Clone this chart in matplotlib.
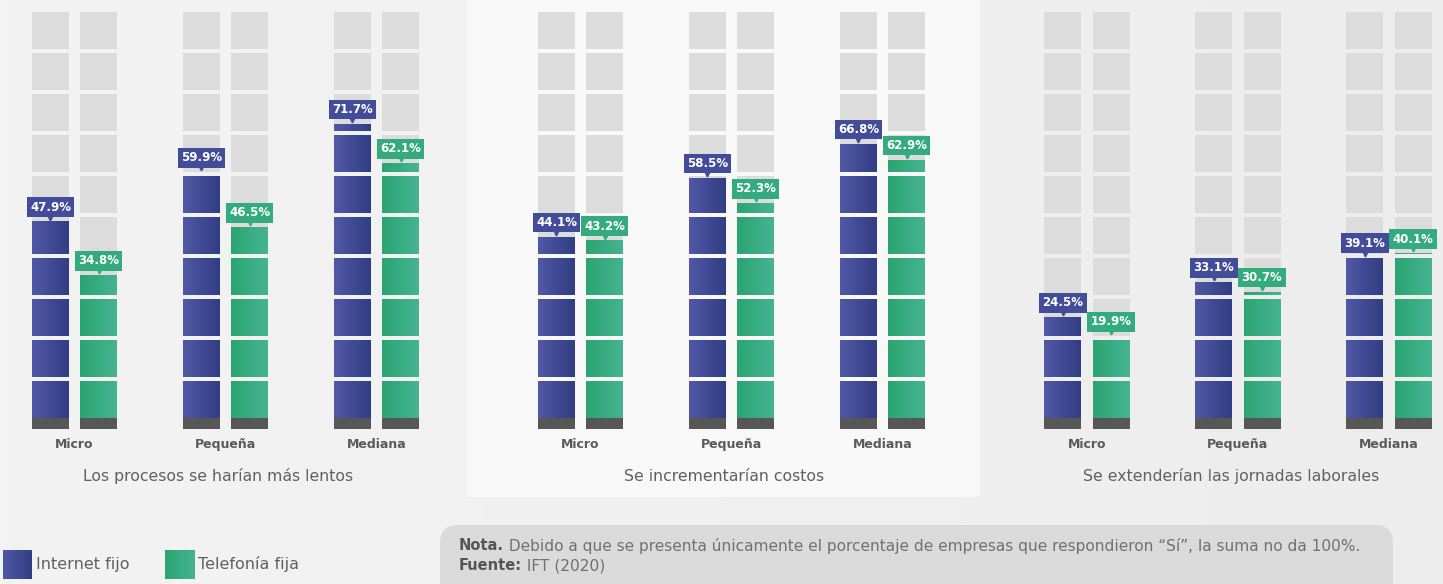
import numpy as np
import matplotlib
matplotlib.use("Agg")
import matplotlib.pyplot as plt
from matplotlib.colors import LinearSegmentedColormap
from matplotlib.patches import Rectangle, FancyBboxPatch

# ---------------- data ----------------
categories = ["Micro", "Pequeña", "Mediana"]
panel_titles = ["Los procesos se harían más lentos",
                "Se incrementarían costos",
                "Se extenderían las jornadas laborales"]
internet_fijo = [[47.9, 59.9, 71.7],
                 [44.1, 58.5, 66.8],
                 [24.5, 33.1, 39.1]]
telefonia_fija = [[34.8, 46.5, 62.1],
                  [43.2, 52.3, 62.9],
                  [19.9, 30.7, 40.1]]
series_names = ["Internet fijo", "Telefonía fija"]
note_bold = "Nota."
note_text = " Debido a que se presenta únicamente el porcentaje de empresas que respondieron “Sí”, la suma no da 100%."
source_bold = "Fuente:"
source_text = " IFT (2020)"

# ---------------- style ----------------
W, H, DPI = 1443, 584, 100
BG = "#f2f2f2"
MID_BG = "#f8f8f8"
GREY = "#dcdcdc"
BASE = "#575757"
TXT = "#5a5a5a"
blue_cmap = LinearSegmentedColormap.from_list("b", ["#5159a6", "#313d83"], N=512)
green_cmap = LinearSegmentedColormap.from_list("g", ["#2ba472", "#45b491"], N=512)
bg_cmap = LinearSegmentedColormap.from_list("bg", ["#f3f3f3", "#ededed"], N=1024)
blue_mid = "#434c98"
green_mid = "#34ab7f"
plt.rcParams["font.family"] = ["DejaVu Sans"]

fig = plt.figure(figsize=(W / DPI, H / DPI), dpi=DPI, facecolor=BG)


def rect(x0, y0, x1, y1):
    return [x0 / W, 1 - y1 / H, (x1 - x0) / W, (y1 - y0) / H]


grad = np.linspace(0, 1, 64).reshape(1, -1)
grad_bg = np.linspace(0, 1, 1443).reshape(1, -1)

# background gradient + lighter middle panel
bgax = fig.add_axes([0, 0, 1, 1], zorder=-5)
bgax.imshow(grad_bg, cmap=bg_cmap, aspect="auto", interpolation="nearest",
            extent=(0, 1, 0, 1))
bgax.set_xlim(0, 1)
bgax.set_ylim(0, 1)
bgax.axis("off")
bgax.add_patch(Rectangle((467 / W, 1 - 497 / H), (980 - 467) / W, 497 / H,
                         facecolor=MID_BG, edgecolor="none", zorder=2))
# note box
bgax.add_patch(FancyBboxPatch((440 / W, 1 - 600 / H), (1393 - 440) / W, (600 - 525) / H,
                              boxstyle="round,pad=0,rounding_size=0.0125",
                              facecolor="#dadada", edgecolor="none", zorder=2,
                              mutation_aspect=W / H))

PXU = 4.1          # pixels per percentage unit
BASE_H = 11 / PXU
GAP = 1.0
BW = 0.245
OFF = 0.159
centers0 = [74.5, 580.5, 1087]
UNIT = 151.0

for p in range(3):
    c0 = centers0[p]
    x_lo, x_hi = -0.3, 2.3
    ax = fig.add_axes(rect(c0 + x_lo * UNIT, 418 - 100 * PXU,
                           c0 + x_hi * UNIT, 418 + BASE_H * PXU))
    ax.set_facecolor("none")
    ax.axis("off")
    xs = np.arange(len(categories))
    for s, (vals, cmap, mid) in enumerate([(internet_fijo[p], blue_cmap, blue_mid),
                                           (telefonia_fija[p], green_cmap, green_mid)]):
        xpos = xs + (-OFF if s == 0 else OFF)
        # grey background blocks
        for k in range(10):
            ax.bar(xpos, [10 - GAP] * len(xs), bottom=10 * k, width=BW,
                   color=GREY, zorder=1)
        # base
        ax.bar(xpos, [BASE_H] * len(xs), bottom=-BASE_H, width=BW,
               color=BASE, zorder=1)
        # coloured segmented bars with gradient
        for xi, v in zip(xpos, vals):
            for k in range(10):
                lo = 10 * k
                if lo >= v:
                    break
                hi = min(lo + 10 - GAP, v)
                ax.imshow(grad, cmap=cmap, aspect="auto",
                          extent=(xi - BW / 2, xi + BW / 2, lo, hi),
                          zorder=2, interpolation="bilinear")
            # pointer and label
            ax.plot([xi], [v + 1.0], marker="v", markersize=3.5,
                    color=mid, zorder=3, clip_on=False)
            ax.annotate(f"{v:.1f}%", (xi, v), xytext=(0, 10.5),
                        textcoords="offset points", ha="center", va="center",
                        color="white", fontsize=8.5, fontweight="bold",
                        bbox=dict(boxstyle="square,pad=0.28", fc=mid, ec="none"),
                        zorder=4, annotation_clip=False)
    for i, c in enumerate(categories):
        ax.annotate(c, (i, -BASE_H), xytext=(0, -11), textcoords="offset points",
                    ha="center", va="center", fontsize=9, fontweight="bold",
                    color=TXT, annotation_clip=False)
    ax.set_xlim(x_lo, x_hi)
    ax.set_ylim(-BASE_H, 100)
    ax.annotate(panel_titles[p], (1, -BASE_H), xytext=(-5, -34),
                textcoords="offset points", ha="center", va="center",
                fontsize=11.3, color="#606060", annotation_clip=False)

# legend
for j, (name, cmap) in enumerate(zip(series_names, [blue_cmap, green_cmap])):
    x0 = [3, 165][j]
    lax = fig.add_axes(rect(x0, 550, x0 + 29, 579))
    lax.imshow(grad, cmap=cmap, aspect="auto", interpolation="bilinear")
    lax.axis("off")
    fig.text((x0 + 33) / W, 1 - 564 / H, name, fontsize=11.5, color="#606060",
             ha="left", va="center")

fig.canvas.draw()
r = fig.canvas.get_renderer()
for (bt, rt, ypx) in [(note_bold, note_text, 546), (source_bold, source_text, 566)]:
    t1 = fig.text(459 / W, 1 - ypx / H, bt, fontsize=10.5, fontweight="bold",
                  color="#555555", ha="left", va="center", zorder=3)
    bb = t1.get_window_extent(renderer=r)
    fig.text(bb.x1 / W, 1 - ypx / H, rt, fontsize=11.1, color="#707070",
             ha="left", va="center", zorder=3)

fig.savefig("out.png", dpi=DPI, facecolor=BG)
